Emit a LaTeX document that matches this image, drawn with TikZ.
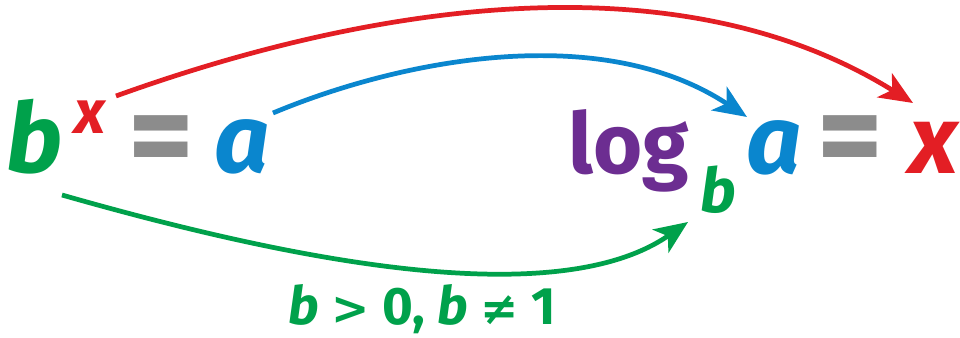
\documentclass[tikz,border=0pt]{standalone}
\usepackage{fontspec}
\setmainfont{Fira Sans}
\newfontfamily\symf{DejaVu Sans}
\usetikzlibrary{arrows.meta}
\definecolor{cgreen}{HTML}{00A14B}
\definecolor{cred}{HTML}{E31E24}
\definecolor{cblue}{HTML}{0A86CE}
\definecolor{cpurple}{HTML}{6C2D91}
\definecolor{cgray}{HTML}{8C8C8C}
\begin{document}
\begin{tikzpicture}[x=0.02cm,y=-0.02cm,
  big/.style={inner sep=0pt, anchor=base west, font=\bfseries\itshape\fontsize{55}{55}\selectfont},
  bigup/.style={inner sep=0pt, anchor=base west, font=\bfseries\fontsize{48}{48}\selectfont},
  small/.style={inner sep=0pt, anchor=base west, font=\bfseries\itshape\fontsize{35}{35}\selectfont},
  eqsign/.style={inner sep=0pt, font=\bfseries\fontsize{72}{72}\selectfont, text=cgray},
  cond/.style={inner sep=0pt, anchor=base west, font=\bfseries\fontsize{30}{30}\selectfont, text=cgreen},
  conn/.style={line width=2.7pt, -{Stealth[length=19pt,width=16pt,inset=5pt]}}
]
\useasboundingbox (0,0) rectangle (960,338);
% left equation
\node[big, text=cgreen] (b1) at (6,172) {b};
\node[small, text=cred] (x1) at (74,133) {x};
\node[eqsign] (eq1) at (161,147) {=};
\node[big, text=cblue] (a1) at (214,172) {a};
% right equation
\node[bigup, text=cpurple] (log) at (568,173) {log};
\node[small, text=cgreen] (b2) at (700,212) {b};
\node[big, text=cblue] (a2) at (746,173) {a};
\node[eqsign] (eq2) at (850,147) {=};
\node[big, text=cred] (x2) at (909,173) {x};
% condition
\node[cond] (c) at (288,324) {\itshape b\upshape\ {\symf\fontsize{26}{26}\selectfont >} 0, \itshape b\upshape\ {\symf\fontsize{26}{26}\selectfont ≠} 1};
% connector end points
\coordinate (rS) at (116,96);
\coordinate (rE) at (913,103);
\coordinate (bS) at (273,113);
\coordinate (bE) at (747,117);
\coordinate (gS) at (62,195);
\coordinate (gE) at (688,222);
\draw[conn, cred] (rS) .. controls (366,6) and (675,-45) .. (rE);
\draw[conn, cblue] (bS) .. controls (400,60) and (600,20) .. (bE);
\draw[conn, cgreen] (gS) .. controls (262,252) and (550,318) .. (gE);
\end{tikzpicture}
\end{document}
